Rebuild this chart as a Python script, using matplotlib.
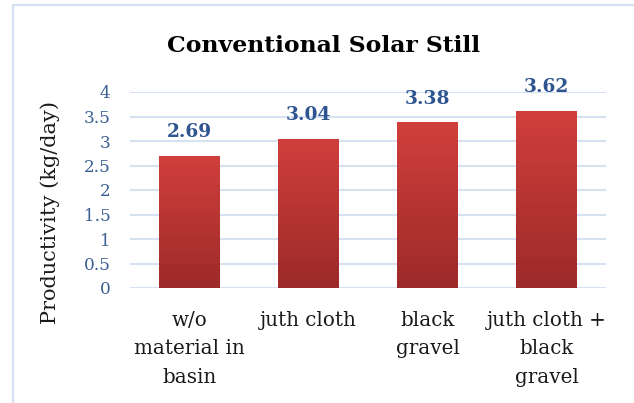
import matplotlib
matplotlib.use("Agg")
import matplotlib.pyplot as plt
import numpy as np
from matplotlib.patches import Rectangle
from matplotlib.colors import LinearSegmentedColormap

categories = ["w/o\nmaterial in\nbasin", "juth cloth", "black\ngravel", "juth cloth +\nblack\ngravel"]
values = [2.69, 3.04, 3.38, 3.62]
value_labels = ["2.69", "3.04", "3.38", "3.62"]
yticks = [0, 0.5, 1, 1.5, 2, 2.5, 3, 3.5, 4]
ytick_labels = ["0", "0.5", "1", "1.5", "2", "2.5", "3", "3.5", "4"]
title = "Conventional Solar Still"
ylabel = "Productivity (kg/day)"

plt.rcParams['font.family'] = ['DejaVu Serif']

W, H = 634, 403
fig = plt.figure(figsize=(W / 100, H / 100), dpi=100)
fig.patch.set_facecolor('white')

# outer chart frame
fig.patches.append(Rectangle((13 / W, -0.1), 1.1, 1 - 5 / H + 0.1, transform=fig.transFigure,
                             fill=False, edgecolor='#D5E0F0', lw=1.6, zorder=0))

ax = fig.add_axes([130 / W, 1 - 288 / H, 476 / W, 196 / H])
ax.set_facecolor('none')

x = np.arange(len(categories))
bars = ax.bar(x, values, width=0.51, color='none', edgecolor='none', zorder=2)

cmap = LinearSegmentedColormap.from_list('g', ['#9C2A29', '#D13F3C'])
grad = np.linspace(0, 1, 256).reshape(-1, 1)
for b in bars:
    x0, w, h = b.get_x(), b.get_width(), b.get_height()
    im = ax.imshow(grad, cmap=cmap, aspect='auto', origin='lower',
                   extent=[x0, x0 + w, 0, h], zorder=2, interpolation='bilinear')
    im.set_clip_path(b)

for xi, v, lab in zip(x, values, value_labels):
    ax.annotate(lab, (xi, v), xytext=(0, 13.5), textcoords='offset points',
                ha='center', va='baseline', fontsize=13.4, fontweight='bold', color='#2E5590')

ax.set_xlim(-0.5, len(categories) - 0.5)
ax.set_ylim(0, 4)
ax.set_yticks(yticks)
ax.set_yticklabels(ytick_labels)
ax.yaxis.grid(True, color='#D6E2F2', lw=1.5, zorder=0)
ax.set_axisbelow(True)
for s in ax.spines.values():
    s.set_visible(False)
ax.tick_params(axis='y', length=0, pad=14, labelsize=12.2, labelcolor='#3A5E93')
ax.set_xticks(x)
ax.set_xticklabels(categories, linespacing=1.62)
ax.tick_params(axis='x', length=0, pad=16.5, labelsize=14.3, labelcolor='#1a1a1a')

fig.text(323.5 / W, 1 - 52 / H, title, ha='center', va='baseline',
         fontsize=16.9, fontweight='bold', color='#000000')
fig.text(50 / W, 1 - 213 / H, ylabel, ha='center', va='center', rotation=90,
         fontsize=15, color='#1a1a1a')

fig.savefig('out.png', dpi=100, facecolor='white')
